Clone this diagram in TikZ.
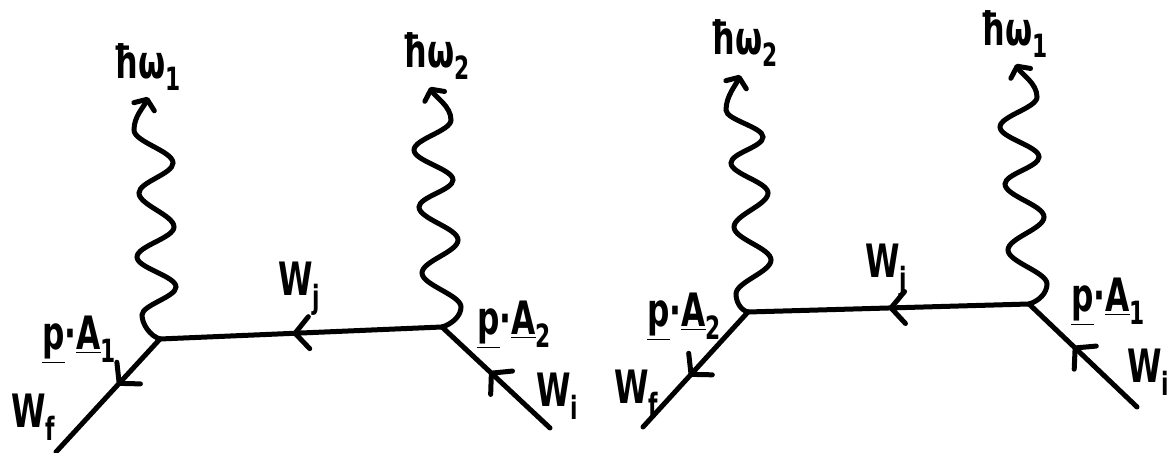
\documentclass[tikz,border=0pt]{standalone}
\usepackage{fontspec}
\setmainfont{DejaVu Sans}[FakeStretch=0.68]
\usetikzlibrary{arrows.meta,decorations.markings}
\tikzset{
  fermion/.style={line width=2.5pt, line cap=round, line join=round,
    postaction={decorate},
    decoration={markings, mark=at position #1 with {\arrow{Straight Barb[length=7pt,width=16pt,round]}}}},
  photon/.style={line width=2.5pt, line cap=round, -{Straight Barb[length=4pt,width=11pt,round]}},
  lbl/.style={inner sep=0pt, font=\fontsize{23}{25}\bfseries\selectfont}
}
\newcommand{\sbs}[1]{\raisebox{-0.28em}{\fontsize{16}{16}\selectfont #1}}
\newcommand{\pa}[1]{\underline{p}·\underline{A}\sbs{#1}}
\begin{document}
\begin{tikzpicture}[x=0.5pt,y=-0.5pt]
\useasboundingbox (0,0) rectangle (1171,453);
% vertices and ends
\coordinate (A) at (160,339);
\coordinate (B) at (442,327);
\coordinate (fL) at (56,452);
\coordinate (iL) at (550,428);
\coordinate (tA) at (148,97);
\coordinate (tB) at (430,87);
\coordinate (C) at (748,312);
\coordinate (D) at (1029,304);
\coordinate (fR) at (643,427);
\coordinate (iR) at (1137,407);
\coordinate (tC) at (740,75);
\coordinate (tD) at (1016,64);
% photons
\draw[photon] (A) .. controls +(-10,-3) and +(0,9) .. (142,315)
  .. controls +(0,-10) and +(0,10) .. (176,287)
  .. controls +(0,-11) and +(0,11) .. (137,257)
  .. controls +(0,-11) and +(0,11) .. (174,227)
  .. controls +(0,-12) and +(0,12) .. (139,193)
  .. controls +(0,-11) and +(0,11) .. (173,163)
  .. controls +(0,-12) and +(0,12) .. (134,130)
  .. controls +(0,-14) and +(-4,10) .. (tA);
\draw[photon] (B) .. controls +(10,-3) and +(0,9) .. (461,307)
  .. controls +(0,-12) and +(0,12) .. (422,273)
  .. controls +(0,-12) and +(0,12) .. (458,240)
  .. controls +(0,-12) and +(0,12) .. (419,207)
  .. controls +(0,-10) and +(0,10) .. (453,180)
  .. controls +(0,-11) and +(0,11) .. (414,150)
  .. controls +(0,-11) and +(0,11) .. (451,120)
  .. controls +(0,-14) and +(5,10) .. (tB);
\draw[photon] (C) .. controls +(-8,-2) and +(0,7) .. (736,294)
  .. controls +(0,-12) and +(0,12) .. (771,260)
  .. controls +(0,-12) and +(0,12) .. (734,227)
  .. controls +(0,-12) and +(0,12) .. (768,193)
  .. controls +(0,-11) and +(0,11) .. (731,163)
  .. controls +(0,-10) and +(0,10) .. (763,137)
  .. controls +(0,-10) and +(0,10) .. (726,110)
  .. controls +(0,-14) and +(-4,10) .. (tC);
\draw[photon] (D) .. controls +(10,-3) and +(0,9) .. (1047,284)
  .. controls +(0,-12) and +(0,12) .. (1008,250)
  .. controls +(0,-12) and +(0,12) .. (1044,217)
  .. controls +(0,-12) and +(0,12) .. (1005,184)
  .. controls +(0,-10) and +(0,10) .. (1039,157)
  .. controls +(0,-11) and +(0,11) .. (1000,127)
  .. controls +(0,-11) and +(0,11) .. (1037,97)
  .. controls +(0,-14) and +(5,10) .. (tD);
% fermion lines
\draw[fermion=0.53] (B) -- (A);
\draw[fermion=0.41] (A) -- (fL);
\draw[fermion=0.56] (iL) -- (B);
\draw[fermion=0.5] (D) -- (C);
\draw[fermion=0.56] (C) -- (fR);
\draw[fermion=0.59] (iR) -- (D);
% labels
\node[lbl] (w1L) at (147,67) {ħω\sbs{1}};
\node[lbl] (w2L) at (436,56) {ħω\sbs{2}};
\node[lbl] (w2R) at (744,43) {ħω\sbs{2}};
\node[lbl] (w1R) at (1014,34) {ħω\sbs{1}};
\node[lbl] (WjL) at (299,289) {W\sbs{j}};
\node[lbl] (WjR) at (886,271) {W\sbs{j}};
\node[lbl] (pa1L) at (79,340) {\pa{1}};
\node[lbl] (pa2L) at (514,325) {\pa{2}};
\node[lbl] (WfL) at (33,417) {W\sbs{f}};
\node[lbl] (WiL) at (557,396) {W\sbs{i}};
\node[lbl] (pa2R) at (684,317) {\pa{2}};
\node[lbl] (WfR) at (636,393) {W\sbs{f}};
\node[lbl] (pa1R) at (1108,302) {\pa{1}};
\node[lbl] (WiR) at (1148,372) {W\sbs{i}};
\end{tikzpicture}
\end{document}
